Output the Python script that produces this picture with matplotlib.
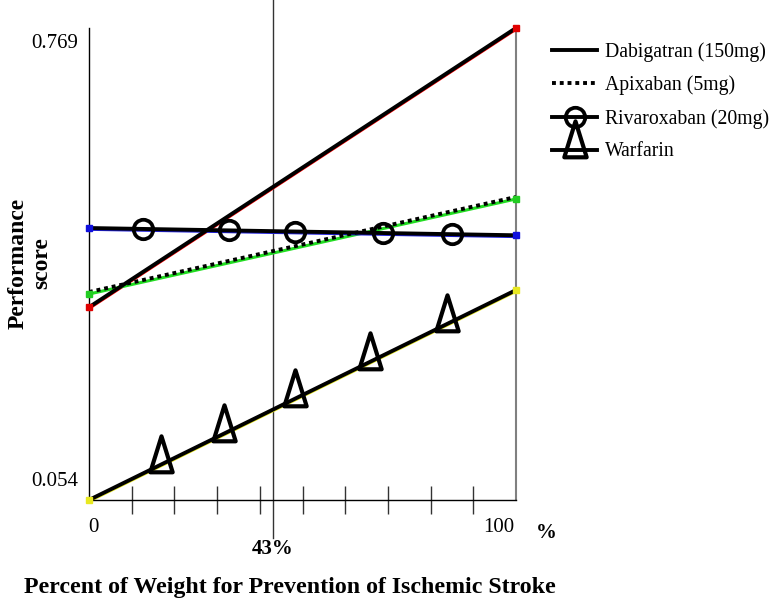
import matplotlib
matplotlib.use('Agg')
import matplotlib.pyplot as plt
import matplotlib.transforms as mtransforms
from matplotlib.lines import Line2D
from matplotlib.path import Path

# weight (%) at the two ends of each line, and performance scores
x_ends = [0, 100]
dabigatran = [0.346, 0.769]
apixaban = [0.366, 0.510]
rivaroxaban = [0.466, 0.455]
warfarin = [0.054, 0.372]

# marker positions along the lines (percent)
riva_marks = [12.6, 32.8, 48.2, 68.8, 85.0]
warf_marks = [16.9, 31.6, 48.2, 65.8, 83.8]

threshold = 43
ymin, ymax = 0.054, 0.769

plt.rcParams['font.family'] = ['Liberation Serif', 'DejaVu Serif']

fig = plt.figure(figsize=(7.73, 6.06), dpi=100)
ax = fig.add_axes([89/773, 1 - 500/606, 427/773, 472/606])
ax.set_xlim(0, 100)
ax.set_ylim(ymin, ymax)

below = mtransforms.offset_copy(ax.transData, fig=fig, x=0, y=-2, units='dots')
above = mtransforms.offset_copy(ax.transData, fig=fig, x=0, y=2, units='dots')

# tall open triangle, sitting a bit above the line
tri = Path([(-11.5, -7), (11.5, -7), (0, 30), (-11.5, -7)],
           [Path.MOVETO, Path.LINETO, Path.LINETO, Path.CLOSEPOLY])
tri_ms = 42


def interp(xs, ends):
    return [ends[0] + (ends[1] - ends[0]) * x / 100 for x in xs]


# Dabigatran
ax.plot(x_ends, dabigatran, color='red', lw=1.2, transform=below, zorder=2)
ax.plot(x_ends, dabigatran, color='black', lw=2.8, zorder=3)
ax.plot(x_ends, dabigatran, 's', color='#e00000', ms=5, zorder=4, clip_on=False)

# Apixaban
ax.plot(x_ends, apixaban, color='#22dd22', lw=2.2, zorder=2)
ax.plot(x_ends, apixaban, color='black', lw=2.8, linestyle=(0, (1, 1)),
        transform=above, zorder=3)
ax.plot(x_ends, apixaban, 's', color='#22cc22', ms=5, zorder=4, clip_on=False)

# Rivaroxaban
ax.plot(x_ends, rivaroxaban, color='#2020dd', lw=1.2, transform=below, zorder=2)
ax.plot(x_ends, rivaroxaban, color='black', lw=2.8, zorder=3)
ax.plot(riva_marks, interp(riva_marks, rivaroxaban), 'o', mfc='none', mec='black',
        mew=2.7, ms=14, zorder=4)
ax.plot(x_ends, rivaroxaban, 's', color='#1010dd', ms=5, zorder=4, clip_on=False)

# Warfarin
ax.plot(x_ends, warfarin, color='#e8e820', lw=1.2, transform=below, zorder=2)
ax.plot(x_ends, warfarin, color='black', lw=2.8, zorder=3)
ax.plot(warf_marks, interp(warf_marks, warfarin), marker=tri, ls='none', mfc='none',
        mec='black', mew=3, ms=tri_ms, zorder=4)
ax.plot(x_ends, warfarin, 's', color='#e8e820', ms=5, zorder=4, clip_on=False)

# axes frame
ax.spines['top'].set_visible(False)
ax.spines['right'].set_color('gray')
ax.spines['right'].set_linewidth(1.5)
ax.spines['left'].set_linewidth(1.0)
ax.spines['bottom'].set_linewidth(1.0)
ax.set_xticks(range(10, 100, 10))
ax.set_xticklabels([])
ax.tick_params(axis='x', direction='inout', length=20, width=1, color='#333333')
ax.set_yticks([])

# 43% line
ax.axvline(threshold, ymin=-0.08, ymax=1.06, color='#333333', lw=1, clip_on=False, zorder=1)

# labels (x in data, y in axes fraction)
xt = dict(transform=ax.get_xaxis_transform(), clip_on=False)
ax.text(-2.5, 1 - 16 / 472, '0.769', ha='right', va='center', fontsize=15, **xt)
ax.text(-2.5, 18 / 472, '0.054', ha='right', va='center', fontsize=15, **xt)
ax.text(1, -28 / 472, '0', ha='center', va='center', fontsize=15, **xt)
ax.text(96, -28 / 472, '100', ha='center', va='center', fontsize=15, **xt)
ax.text(107, -33 / 472, '%', ha='center', va='center', fontsize=15, fontweight='bold', **xt)
ax.text(threshold, -49 / 472, '43%', ha='center', va='center', fontsize=15,
        fontweight='bold', **xt)

fig.text(30/773, 1 - 263/606, 'Performance\nscore', rotation=90, ha='center', va='center',
         fontsize=17, fontweight='bold', linespacing=1.15)
fig.text(290/773, 1 - 588/606, 'Percent of Weight for Prevention of Ischemic Stroke',
         ha='center', va='center', fontsize=17.2, fontweight='bold')

handles = [
    Line2D([], [], color='black', lw=2.8),
    Line2D([], [], color='black', lw=2.8, linestyle=(0, (1, 1))),
    Line2D([], [], color='black', lw=2.8, marker='o', mfc='none', mec='black', mew=2.7, ms=14),
    Line2D([], [], color='black', lw=2.8, marker=tri, mfc='none', mec='black', mew=3,
           ms=tri_ms),
]
labels = ['Dabigatran (150mg)', 'Apixaban (5mg)', 'Rivaroxaban (20mg)', 'Warfarin']
fig.legend(handles, labels, loc='upper left', bbox_to_anchor=(542/773, 1 - 32/606),
           frameon=False, fontsize=14.2, handlelength=2.3, handletextpad=0.4,
           labelspacing=0.7, borderpad=0)

fig.savefig('out.png', dpi=100)
